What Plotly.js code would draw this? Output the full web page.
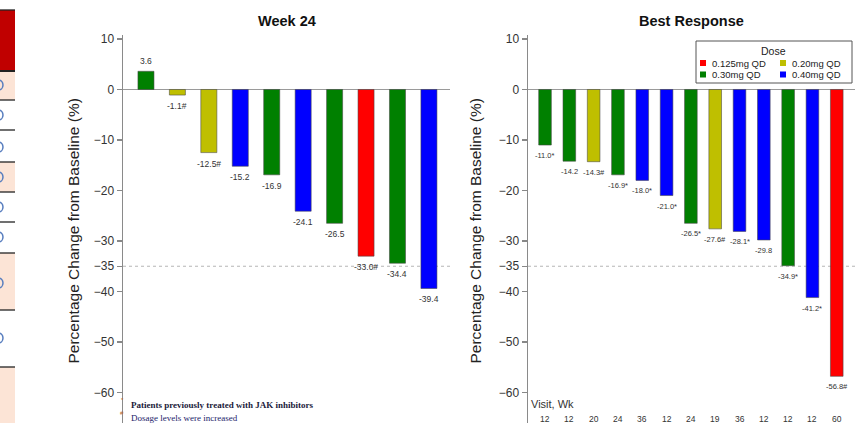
<!DOCTYPE html>
<html>
<head>
<meta charset="utf-8">
<script src="https://cdn.plot.ly/plotly-3.0.1.min.js"></script>
<style>html,body{margin:0;padding:0;background:#fff;}#chart{width:862px;height:423px;}</style>
</head>
<body>
<div id="chart"></div>
<script>
// ---------- data ----------
const doseLabels = ['0.125mg QD', '0.20mg QD', '0.30mg QD', '0.40mg QD'];
const doseColors = ['#FF0000', '#BFBF00', '#008000', '#0000FF'];

const week24Values = [3.6, -1.1, -12.5, -15.2, -16.9, -24.1, -26.5, -33.0, -34.4, -39.4];
const week24Dose   = ['0.30mg QD', '0.20mg QD', '0.20mg QD', '0.40mg QD', '0.30mg QD', '0.40mg QD', '0.30mg QD', '0.125mg QD', '0.30mg QD', '0.40mg QD'];
const week24Labels = ['3.6', '-1.1#', '-12.5#', '-15.2', '-16.9', '-24.1', '-26.5', '-33.0#', '-34.4', '-39.4'];

const bestValues = [-11.0, -14.2, -14.3, -16.9, -18.0, -21.0, -26.5, -27.6, -28.1, -29.8, -34.9, -41.2, -56.8];
const bestDose   = ['0.30mg QD', '0.30mg QD', '0.20mg QD', '0.30mg QD', '0.40mg QD', '0.40mg QD', '0.30mg QD', '0.20mg QD', '0.40mg QD', '0.40mg QD', '0.30mg QD', '0.40mg QD', '0.125mg QD'];
const bestLabels = ['-11.0*', '-14.2', '-14.3#', '-16.9*', '-18.0*', '-21.0*', '-26.5*', '-27.6#', '-28.1*', '-29.8', '-34.9*', '-41.2*', '-56.8#'];
const visitWeeks = ['12', '12', '20', '24', '36', '12', '24', '19', '36', '12', '12', '12', '60'];

const yTickVals = [10, 0, -10, -20, -30, -35, -40, -50, -60];
const threshold = -35;

const titleLeft = 'Week 24';
const titleRight = 'Best Response';
const yTitle = 'Percentage Change from Baseline (%)';
const footnotes = ['Patients previously treated with JAK inhibitors', 'Dosage levels were increased'];
const footMarks = ['*', '#'];

// ---------- helpers ----------
const W = 862, H = 423;
const px = x => x / W;
const py = y => 1 - y / H;
const FONT = 'Liberation Sans, Arial, sans-serif';

const traces = [];
function addChart(values, doses, xa, ya, width) {
  doseLabels.forEach((d, k) => {
    const xs = [], ys = [];
    values.forEach((v, i) => { if (doses[i] === d) { xs.push(i); ys.push(v); } });
    if (!xs.length) return;
    traces.push({
      type: 'bar', x: xs, y: ys, xaxis: xa, yaxis: ya, width: width,
      name: d, showlegend: false, hoverinfo: 'skip',
      marker: { color: doseColors[k], line: { color: 'rgba(70,70,70,0.55)', width: 1 } }
    });
  });
}
addChart(week24Values, week24Dose, 'x', 'y', 0.51);
addChart(bestValues, bestDose, 'x2', 'y2', 0.52);

const annotations = [];
function paperText(x, y, text, font, xanchor, extra) {
  annotations.push(Object.assign({
    x: px(x), y: py(y), xref: 'paper', yref: 'paper', text: text, showarrow: false,
    xanchor: xanchor || 'center', yanchor: 'middle', font: font
  }, extra || {}));
}
function addLabels(values, labels, xref, yref, size, shiftNeg) {
  values.forEach((v, i) => {
    annotations.push({
      x: i, y: v, xref: xref, yref: yref, text: labels[i], showarrow: false,
      xanchor: 'center', yanchor: v >= 0 ? 'bottom' : 'top', yshift: v >= 0 ? 3 : shiftNeg,
      font: { family: FONT, size: size, color: '#333' }
    });
  });
}
addLabels(week24Values, week24Labels, 'x', 'y', 8.5, -4);
addLabels(bestValues, bestLabels, 'x2', 'y2', 7.5, -4);

// titles
paperText(287, 21, '<b>' + titleLeft + '</b>', { family: FONT, size: 14.5, color: '#111' });
paperText(691, 21, '<b>' + titleRight + '</b>', { family: FONT, size: 14.5, color: '#111' });
// y axis titles
[73, 475].forEach(xc => paperText(xc, 231.5, yTitle, { family: FONT, size: 15.5, color: '#222' }, 'center', { textangle: -90 }));

// footnotes
footnotes.forEach((t, i) => {
  paperText(129, 405 + i * 12.5, i === 0 ? '<b>' + t + '</b>' : t, { family: 'Liberation Serif, Times New Roman, serif', size: 9, color: i === 0 ? '#1a1a3a' : '#23236a' }, 'left');
  paperText(122, 400 + i * 13, footMarks[i], { family: FONT, size: 6, color: '#b0602a' }, 'center');
});

// visit weeks row
paperText(529, 404, 'Visit, Wk', { family: FONT, size: 11, color: '#333' }, 'left');
visitWeeks.forEach((w, i) => annotations.push({ x: i, xref: 'x2', y: py(419), yref: 'paper', xanchor: 'center', yanchor: 'middle', text: w, showarrow: false, font: { family: FONT, size: 8.5, color: '#333' } }));

// manual legend
const shapes = [];
shapes.push({ type: 'rect', xref: 'paper', yref: 'paper', x0: px(696), x1: px(852), y0: py(41), y1: py(83), line: { color: '#555', width: 1 }, fillcolor: 'rgba(255,255,255,1)', layer: 'above' });
paperText(773, 51, 'Dose', { family: FONT, size: 10.5, color: '#222' });
doseLabels.forEach((d, k) => {
  const cx = k % 2 === 0 ? 703 : 783;
  const cy = k < 2 ? 63 : 74.5;
  shapes.push({ type: 'rect', xref: 'paper', yref: 'paper', x0: px(cx - 3), x1: px(cx + 3), y0: py(cy - 3), y1: py(cy + 3), fillcolor: doseColors[k], line: { width: 0 }, layer: 'above' });
  paperText(cx + 7, cy, d, { family: FONT, size: 9.5, color: '#222' }, 'left');
});

// threshold lines
['x', 'x2'].forEach((xa, i) => shapes.push({ type: 'line', xref: xa + ' domain', yref: i ? 'y2' : 'y', x0: 0, x1: 1, y0: threshold, y1: threshold, line: { color: '#b5b5b5', width: 1, dash: 'dot' }, layer: 'below' }));

// cropped slide-table strip at the left edge
shapes.push({ type: 'rect', xref: 'paper', yref: 'paper', x0: px(0), x1: px(15), y0: py(10), y1: py(71), fillcolor: '#C00000', line: { width: 0 } });
[[71, 100], [162, 192], [253, 310], [367, 423]].forEach(r => shapes.push({ type: 'rect', xref: 'paper', yref: 'paper', x0: px(0), x1: px(15), y0: py(r[0]), y1: py(r[1]), fillcolor: '#FCE4D6', line: { width: 0 } }));
[10, 71, 100, 130, 162, 192, 222, 253, 310, 367].forEach((y, i) => shapes.push({ type: 'line', xref: 'paper', yref: 'paper', x0: px(0), x1: px(15), y0: py(y), y1: py(y), line: { color: '#222', width: i === 1 ? 2 : 1.3 } }));
[85, 115, 147, 177, 207, 237, 283, 338].forEach(y => shapes.push({ type: 'circle', xref: 'paper', yref: 'paper', x0: px(-6), x1: px(3), y0: py(y - 5), y1: py(y + 5), line: { color: '#5a7fbf', width: 1.5 } }));

// ---------- axes ----------
const yRange = [-66.04, 10.79];
const yDomain = [0, py(35)];
const yAxisBase = {
  range: yRange, domain: yDomain, tickvals: yTickVals, ticks: 'outside', ticklen: 5, tickcolor: '#888', tickwidth: 1.2,
  showline: true, linecolor: '#8a8a8a', linewidth: 1.5, showgrid: false,
  zeroline: true, zerolinecolor: '#9a9a9a', zerolinewidth: 1.5,
  tickfont: { family: FONT, size: 12, color: '#333' }, fixedrange: true
};
const xAxisBase = { showline: false, showticklabels: false, showgrid: false, zeroline: false, ticks: '', fixedrange: true };

const layout = {
  width: W, height: H, margin: { l: 0, r: 0, t: 0, b: 0 },
  paper_bgcolor: '#fff', plot_bgcolor: 'rgba(0,0,0,0)',
  barmode: 'overlay', showlegend: false,
  xaxis: Object.assign({}, xAxisBase, { domain: [px(123), px(450)], range: [-0.73, 9.67], anchor: 'y' }),
  yaxis: Object.assign({}, yAxisBase, { anchor: 'x' }),
  xaxis2: Object.assign({}, xAxisBase, { domain: [px(528), px(855)], range: [-0.70, 12.75], anchor: 'y2' }),
  yaxis2: Object.assign({}, yAxisBase, { anchor: 'x2' }),
  annotations: annotations, shapes: shapes,
  font: { family: FONT }
};

Plotly.newPlot('chart', traces, layout, { staticPlot: true, displayModeBar: false });
</script>
</body>
</html>
